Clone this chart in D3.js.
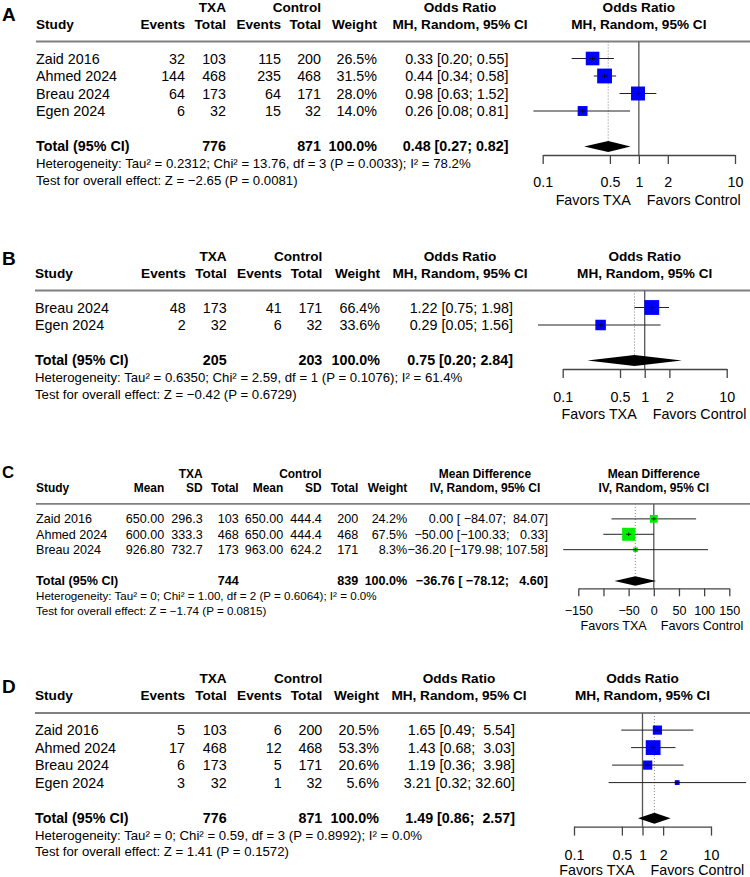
<!DOCTYPE html>
<html>
<head>
<meta charset="utf-8">
<script src="https://cdn.jsdelivr.net/npm/d3@7"></script>
<style>
  body { margin: 0; background: #fff; }
  text { font-family: "Liberation Sans", Arial, Helvetica, sans-serif; white-space: pre; }
</style>
</head>
<body>
<div id="chart"></div>
<script>
// ---- panel A: odds ratio, 4 studies ----
const studiesA = ["Zaid 2016", "Ahmed 2024", "Breau 2024", "Egen 2024"];
const txaEventsA = [32, 144, 64, 6];
const txaTotalA = [103, 468, 173, 32];
const ctlEventsA = [115, 235, 64, 15];
const ctlTotalA = [200, 468, 171, 32];
const weightA = [26.5, 31.5, 28.0, 14.0];
const orA = [0.33, 0.44, 0.98, 0.26];
const lowerA = [0.20, 0.34, 0.63, 0.08];
const upperA = [0.55, 0.58, 1.52, 0.81];
const pooledA = [0.48, 0.27, 0.82];
const totalsA = [776, 871];
const hetA = "Heterogeneity: Tau\u00b2 = 0.2312; Chi\u00b2 = 13.76, df = 3 (P = 0.0033); I\u00b2 = 78.2%";
const testA = "Test for overall effect: Z = \u22122.65 (P = 0.0081)";

// ---- panel B: odds ratio, 2 studies ----
const studiesB = ["Breau 2024", "Egen 2024"];
const txaEventsB = [48, 2];
const txaTotalB = [173, 32];
const ctlEventsB = [41, 6];
const ctlTotalB = [171, 32];
const weightB = [66.4, 33.6];
const orB = [1.22, 0.29];
const lowerB = [0.75, 0.05];
const upperB = [1.98, 1.56];
const pooledB = [0.75, 0.20, 2.84];
const totalsB = [205, 203];
const hetB = "Heterogeneity: Tau\u00b2 = 0.6350; Chi\u00b2 = 2.59, df = 1 (P = 0.1076); I\u00b2 = 61.4%";
const testB = "Test for overall effect: Z = \u22120.42 (P = 0.6729)";

// ---- panel C: mean difference, 3 studies ----
const studiesC = ["Zaid 2016", "Ahmed 2024", "Breau 2024"];
const txaMeanC = [650.00, 600.00, 926.80];
const txaSdC = [296.3, 333.3, 732.7];
const txaTotalC = [103, 468, 173];
const ctlMeanC = [650.00, 650.00, 963.00];
const ctlSdC = [444.4, 444.4, 624.2];
const ctlTotalC = [200, 468, 171];
const weightC = [24.2, 67.5, 8.3];
const mdC = [0.00, -50.00, -36.20];
const lowerC = [-84.07, -100.33, -179.98];
const upperC = [84.07, 0.33, 107.58];
const pooledC = [-36.76, -78.12, 4.60];
const totalsC = [744, 839];
const hetC = "Heterogeneity: Tau\u00b2 = 0; Chi\u00b2 = 1.00, df = 2 (P = 0.6064); I\u00b2 = 0.0%";
const testC = "Test for overall effect: Z = \u22121.74 (P = 0.0815)";

// ---- panel D: odds ratio, 4 studies ----
const studiesD = ["Zaid 2016", "Ahmed 2024", "Breau 2024", "Egen 2024"];
const txaEventsD = [5, 17, 6, 3];
const txaTotalD = [103, 468, 173, 32];
const ctlEventsD = [6, 12, 5, 1];
const ctlTotalD = [200, 468, 171, 32];
const weightD = [20.5, 53.3, 20.6, 5.6];
const orD = [1.65, 1.43, 1.19, 3.21];
const lowerD = [0.49, 0.68, 0.36, 0.32];
const upperD = [5.54, 3.03, 3.98, 32.60];
const pooledD = [1.49, 0.86, 2.57];
const totalsD = [776, 871];
const hetD = "Heterogeneity: Tau\u00b2 = 0; Chi\u00b2 = 0.59, df = 3 (P = 0.8992); I\u00b2 = 0.0%";
const testD = "Test for overall effect: Z = 1.41 (P = 0.1572)";

// axis ticks
const orTicks = [0.1, 0.5, 1, 2, 10];
const orTickLabels = ["0.1", "0.5", "1", "2", "10"];
const mdTicks = [-150, -100, -50, 0, 50, 100, 150];
const mdTickLabels = ["\u2212150", "", "\u221250", "0", "50", "100", "150"];

const FONT = '"Liberation Sans", Arial, Helvetica, sans-serif';
const f2 = d3.format(".2f"), f1 = d3.format(".1f");
const pct = w => f1(w) + "%";

const svg = d3.select("#chart").append("svg")
    .attr("width", 750)
    .attr("height", 877)
    .attr("font-family", FONT);

// layout of each panel (positions only, values come from the arrays above)
const panels = [
    { label: "A", labelY: 20.7, top: 11.7, s: 1, studyX: 36, studies: studiesA,
      groups: [["TXA", 226], ["Control", 321]],
      cols: [["Events", 185, txaEventsA, ""], ["Total", 226, txaTotalA, totalsA[0]],
             ["Events", 281, ctlEventsA, ""], ["Total", 321, ctlTotalA, totalsA[1]],
             ["Weight", 377, weightA.map(pct), "100.0%"]],
      estX: 508.5, estHeadX: 460, measure: "Odds Ratio", method: "MH, Random, 95% CI",
      est: orA, lo: lowerA, hi: upperA, pooled: pooledA, weights: weightA,
      log: true, domain: [0.1, 10], range: [542.7, 735], ticks: orTicks, tickLabels: orTickLabels,
      tickLab: 31.5, favLab: 50, color: "#0000ff", het: hetA, test: testA },
    { label: "B", labelY: 265, top: 260.7, s: 1, studyX: 35, studies: studiesB,
      groups: [["TXA", 226.7], ["Control", 322.3]],
      cols: [["Events", 185.7, txaEventsB, ""], ["Total", 226.7, txaTotalB, totalsB[0]],
             ["Events", 281.7, ctlEventsB, ""], ["Total", 322.3, ctlTotalB, totalsB[1]],
             ["Weight", 380, weightB.map(pct), "100.0%"]],
      estX: 513, estHeadX: 460, measure: "Odds Ratio", method: "MH, Random, 95% CI",
      est: orB, lo: lowerB, hi: upperB, pooled: pooledB, weights: weightB,
      log: true, domain: [0.1, 10], range: [562.7, 726.7], ticks: orTicks, tickLabels: orTickLabels,
      tickLab: 33, favLab: 49.5, color: "#0000ff", het: hetB, test: testB },
    { label: "C", labelY: 478.3, top: 477.7, s: 0.88, studyX: 36, studies: studiesC,
      groups: [["TXA", 202.7], ["Control", 321.7]],
      cols: [["Mean", 164.3, txaMeanC.map(f2), ""], ["SD", 202.7, txaSdC.map(f1), ""],
             ["Total", 238.7, txaTotalC, totalsC[0]], ["Mean", 283.3, ctlMeanC.map(f2), ""],
             ["SD", 321.7, ctlSdC.map(f1), ""], ["Total", 358.3, ctlTotalC, totalsC[1]],
             ["Weight", 407.3, weightC.map(pct), "100.0%"]],
      estX: 548, estHeadX: 485, measure: "Mean Difference", method: "IV, Random, 95% CI",
      est: mdC, lo: lowerC, hi: upperC, pooled: pooledC, weights: weightC,
      log: false, domain: [-150, 150], range: [578.3, 729.3], ticks: mdTicks, tickLabels: mdTickLabels,
      tickLab: 26.7, favLab: 41.7, color: "#00ee00", het: hetC, test: testC },
    { label: "D", labelY: 693, top: 683.3, s: 1, studyX: 35, studies: studiesD,
      groups: [["TXA", 226.7], ["Control", 322.3]],
      cols: [["Events", 185, txaEventsD, ""], ["Total", 226.7, txaTotalD, totalsD[0]],
             ["Events", 281.7, ctlEventsD, ""], ["Total", 322.3, ctlTotalD, totalsD[1]],
             ["Weight", 379, weightD.map(pct), "100.0%"]],
      estX: 515, estHeadX: 459, measure: "Odds Ratio", method: "MH, Random, 95% CI",
      est: orD, lo: lowerD, hi: upperD, pooled: pooledD, weights: weightD,
      log: true, domain: [0.1, 10], range: [574, 711], ticks: orTicks, tickLabels: orTickLabels,
      tickLab: 33, favLab: 48.5, color: "#0000ff", het: hetD, test: testD }
];

// "0.33 [0.20; 0.55]" strings, padded like meta does
function ciStrings(p) {
    const all = p.est.map((e, i) => [e, p.lo[i], p.hi[i]]).concat([p.pooled]);
    const loW = d3.max(all, d => f2(d[1]).length);
    const hiW = d3.max(all, d => f2(d[2]).length);
    return all.map(d => f2(d[0]) + " [" + f2(d[1]).padStart(loW) + "; " + f2(d[2]).padStart(hiW) + "]");
}

function txt(g, x, y, str, size, anchor, bold) {
    return g.append("text")
        .attr("x", x).attr("y", y)
        .attr("font-size", size)
        .attr("text-anchor", anchor || "start")
        .attr("font-weight", bold ? "bold" : "normal")
        .attr("xml:space", "preserve")
        .text(str);
}

function drawPanel(p) {
    const s = p.s;
    const g = svg.append("g");
    const fBody = 14.3 * s, fHead = 13.6 * s, fHet = 13.2 * s;
    const yGroup = p.top, yHead = p.top + 16.8 * s, yRule = p.top + 29.8 * s;
    const step = 17.5 * s;
    const rowY = p.studies.map((d, i) => yRule + 22 * s + i * step);
    const yTotal = rowY[rowY.length - 1] + 2 * step;
    const yHet = yTotal + 17 * s, yTest = yHet + 16.8 * s;
    const yAxis = yTotal + 4 * s;

    const x = (p.log ? d3.scaleLog() : d3.scaleLinear()).domain(p.domain).range(p.range);
    const xMid = (p.range[0] + p.range[1]) / 2;
    const nullX = x(p.log ? 1 : 0);

    // panel letter
    txt(g, 2, p.labelY, p.label, 19 * s, "start", true);

    // headers
    p.groups.forEach(d => txt(g, d[1], yGroup, d[0], fHead, "end", true));
    txt(g, p.studyX, yHead, "Study", fHead, "start", true);
    p.cols.forEach(c => txt(g, c[1], yHead, c[0], fHead, "end", true));
    txt(g, p.estHeadX, yGroup, p.measure, fHead, "middle", true);
    txt(g, p.estHeadX, yHead, p.method, fHead, "middle", true);
    txt(g, xMid, yGroup, p.measure, fHead, "middle", true);
    txt(g, xMid, yHead, p.method, fHead, "middle", true);

    g.append("line")
        .attr("x1", p.studyX).attr("x2", 750)
        .attr("y1", yRule).attr("y2", yRule)
        .attr("stroke", "#808080").attr("stroke-width", 2 * s);

    // study rows
    const ci = ciStrings(p);
    p.studies.forEach((st, i) => {
        txt(g, p.studyX, rowY[i], st, fBody);
        p.cols.forEach(c => txt(g, c[1], rowY[i], String(c[2][i]), fBody, "end"));
        txt(g, p.estX, rowY[i], ci[i], fBody, "end");
    });

    // total row
    txt(g, p.studyX, yTotal, "Total (95% CI)", fBody, "start", true);
    p.cols.forEach(c => { if (c[3] !== "") txt(g, c[1], yTotal, String(c[3]), fBody, "end", true); });
    txt(g, p.estX, yTotal, ci[ci.length - 1], fBody, "end", true);
    txt(g, p.studyX, yHet, p.het, fHet);
    txt(g, p.studyX, yTest, p.test, fHet);

    // plot: reference lines
    const dH = 11 * s, yDia = yTotal - 4.4 * s;
    g.append("line")
        .attr("x1", nullX).attr("x2", nullX)
        .attr("y1", yRule).attr("y2", yAxis)
        .attr("stroke", "#555").attr("stroke-width", 1.3);
    g.append("line")
        .attr("x1", x(p.pooled[0])).attr("x2", x(p.pooled[0]))
        .attr("y1", yRule).attr("y2", yDia - dH / 2)
        .attr("stroke", "#808080").attr("stroke-width", 1)
        .attr("stroke-dasharray", "1,2");

    // confidence intervals and boxes
    const wMax = d3.max(p.weights);
    const side = d3.scaleSqrt().domain([0, wMax]).range([0, 14.8 * s]);
    p.studies.forEach((st, i) => {
        const cy = rowY[i] - 5 * s, cx = x(p.est[i]);
        g.append("line")
            .attr("x1", x(p.lo[i])).attr("x2", x(p.hi[i]))
            .attr("y1", cy).attr("y2", cy)
            .attr("stroke", "#222").attr("stroke-width", 1);
        const w = side(p.weights[i]);
        g.append("rect")
            .attr("x", cx - w / 2).attr("y", cy - w / 2)
            .attr("width", w).attr("height", w)
            .attr("fill", p.color);
        g.append("path")
            .attr("d", `M${cx - 3 * s},${cy}H${cx + 3 * s}M${cx},${cy - 2 * s}V${cy + 2 * s}`)
            .attr("stroke", "#000").attr("stroke-width", 0.8);
    });

    // pooled diamond
    g.append("path")
        .attr("d", `M${x(p.pooled[1])},${yDia}L${x(p.pooled[0])},${yDia - dH / 2}L${x(p.pooled[2])},${yDia}L${x(p.pooled[0])},${yDia + dH / 2}Z`)
        .attr("fill", "#000");

    // axis
    const tick = 9 * s;
    const axis = d3.axisBottom(x)
        .tickValues(p.ticks)
        .tickFormat((d, i) => p.tickLabels[i])
        .tickSizeInner(tick)
        .tickSizeOuter(0)
        .tickPadding(p.tickLab - tick - 0.71 * fBody);
    const ga = g.append("g")
        .attr("transform", "translate(0," + yAxis + ")")
        .call(axis)
        .attr("font-family", FONT)
        .attr("font-size", fBody);
    ga.select(".domain").attr("stroke", "#444").attr("stroke-width", 1.3);
    ga.selectAll(".tick line").attr("stroke", "#444").attr("stroke-width", 1.3);
    ga.selectAll(".tick text").attr("fill", "#000");

    txt(g, nullX - 8 * s, yAxis + p.favLab, "Favors TXA", fBody, "end");
    txt(g, nullX + 8 * s, yAxis + p.favLab, "Favors Control", fBody, "start");
}

panels.forEach(drawPanel);
</script>
</body>
</html>
